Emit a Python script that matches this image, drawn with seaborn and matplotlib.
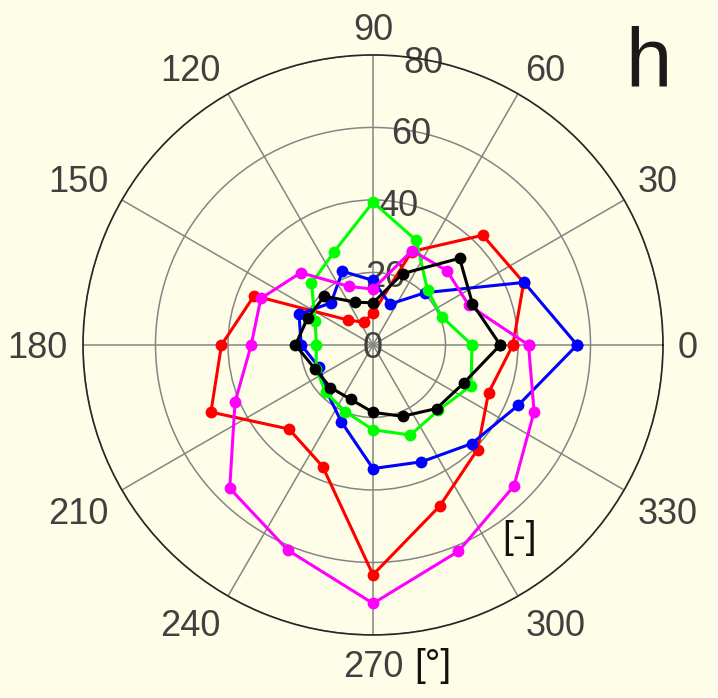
import numpy as np
import pandas as pd
import matplotlib
matplotlib.use("Agg")
import matplotlib.pyplot as plt
import seaborn as sns

# Direction bins (degrees) and radial values for each series
angles_deg = [0, 22.5, 45, 67.5, 90, 112.5, 135, 157.5,
              180, 202.5, 225, 247.5, 270, 292.5, 315, 337.5]
red = [38.6, 45.0, 42.8, 27.9, 8.8, 6.8, 9.7, 35.5,
       41.8, 48.4, 32.8, 36.3, 63.4, 48.1, 40.8, 34.5]
blue = [56.3, 45.1, 20.4, 12.2, 17.8, 22.0, 16.4, 22.1,
        19.8, 16.1, 18.1, 22.9, 34.1, 34.9, 38.5, 43.4]
green = [27.3, 20.5, 21.3, 31.2, 39.4, 27.9, 24.0, 17.3,
         15.6, 17.0, 18.5, 19.9, 23.4, 26.9, 25.5, 29.3]
magenta = [42.9, 28.6, 28.9, 28.2, 15.4, 17.5, 28.2, 33.5,
           33.6, 41.2, 55.9, 61.3, 71.3, 61.6, 55.0, 48.1]
black = [35.1, 29.7, 33.8, 21.3, 11.6, 12.8, 19.0, 19.5,
         21.4, 17.3, 16.6, 16.2, 18.6, 21.3, 24.8, 27.2]

series_order = ["red", "blue", "green", "magenta", "black"]
series_values = [red, blue, green, magenta, black]
palette = {"red": "#ff0000", "blue": "#0000ff", "green": "#00ff00",
           "magenta": "#ff00ff", "black": "#000000"}

theta_ticks = [0, 30, 60, 90, 120, 150, 180, 210, 240, 270, 300, 330]
r_ticks = [0, 20, 40, 60, 80]
r_max = 80

# Long-form table; each loop is closed by repeating its first point at 360 deg
rows = []
for name, vals in zip(series_order, series_values):
    th = list(angles_deg) + [360.0]
    rv = list(vals) + [vals[0]]
    for t, r in zip(th, rv):
        rows.append({"series": name, "theta": np.deg2rad(t), "r": r})
df = pd.DataFrame(rows)

bg = "#fefde8"
sns.set_style("white", {"axes.facecolor": bg, "figure.facecolor": bg})
plt.rcParams["font.family"] = ["Liberation Sans", "DejaVu Sans"]

fig = plt.figure(figsize=(7.18, 6.98), dpi=100)
fig.patch.set_facecolor(bg)
ax = fig.add_axes([0.1156, 0.0903, 0.8078, 0.831], projection="polar")
ax.set_facecolor(bg)

sns.lineplot(data=df, x="theta", y="r", hue="series", hue_order=series_order,
             palette=palette, estimator=None, sort=False, legend=False,
             marker="o", markersize=8.5, markeredgewidth=0, linewidth=2.2,
             ax=ax)

ax.set_ylim(0, r_max)
ax.set_yticks(r_ticks)
ax.set_yticklabels([])
ax.set_thetagrids(theta_ticks, [""] * len(theta_ticks))
ax.set_xlabel("")
ax.set_ylabel("")

ax.grid(True, color="#858585", linewidth=1.1)
ax.spines["polar"].set_color("#262626")
ax.spines["polar"].set_linewidth(1.2)


def corner_alignment(deg):
    """Anchor the label corner nearest the circle, quadrant by quadrant."""
    c, s = np.cos(np.deg2rad(deg)), np.sin(np.deg2rad(deg))
    ha = "center" if abs(c) < 1e-6 else ("left" if c > 0 else "right")
    va = "center_baseline" if abs(s) < 1e-6 else ("baseline" if s > 0 else "top")
    return ha, va


# angle labels just outside the outer ring
label_r = r_max * 1.052
for t in theta_ticks:
    ha, va = corner_alignment(t)
    ax.text(np.deg2rad(t), label_r, str(t), ha=ha, va=va, fontsize=26,
            color="#404040", clip_on=False)

# radial tick labels centred on each ring at 80 deg
for r in r_ticks:
    ax.text(np.deg2rad(80), r, str(r), ha="center", va="center_baseline",
            fontsize=26, color="#404040", zorder=1)

# unit labels and panel letter
ax.text(np.deg2rad(307.2), 66.8, "[-]", ha="center", va="center",
        fontsize=28, color="#111111")
fig.text(433 / 718, 1 - 666 / 698, "[°]", ha="center", va="center",
         fontsize=28, color="#111111")
fig.text(648 / 718, 1 - 65 / 698, "h", ha="center", va="center",
         fontsize=60, color="#1a1a1a")

fig.savefig("out.png", dpi=100, facecolor=bg)
